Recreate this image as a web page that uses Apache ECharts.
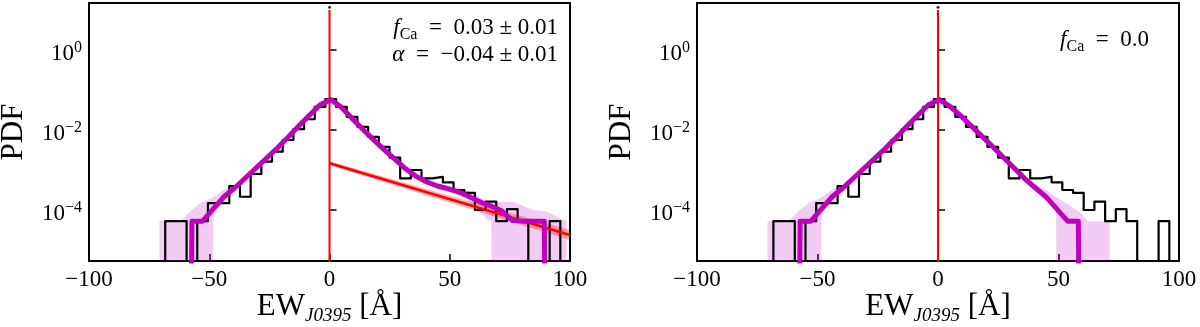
<!DOCTYPE html>
<html>
<head>
<meta charset="utf-8">
<script src="https://cdn.jsdelivr.net/npm/echarts@6/dist/echarts.min.js"></script>
<style>
  html, body { margin: 0; padding: 0; background: #fff; }
  #chart { width: 1200px; height: 327px; }
</style>
</head>
<body>
<div id="chart"></div>
<script>
// histogram of EW_J0395 (same sample in both panels), bin edges in Angstrom
const binEdges = [-68.3, -63.86, -59.42, -54.98, -50.54, -46.1, -41.66, -37.22, -32.78, -28.34,
  -23.9, -19.46, -15.02, -10.58, -6.14, -1.7, 2.74, 7.18, 11.62, 16.06, 20.5, 24.94, 29.38,
  33.82, 38.26, 42.7, 47.14, 51.58, 56.02, 60.46, 64.9, 69.34, 73.78, 78.22, 82.66, 87.1,
  91.54, 95.98];
const histPdf = [5.25e-5, 5.25e-5, 0, 5.25e-5, 1.48e-4, 1.48e-4, 3.98e-4, 2.14e-4, 7.94e-4,
  1.62e-3, 2.88e-3, 5.62e-3, 1.05e-2, 1.86e-2, 3.8e-2, 5.89e-2, 3.8e-2, 2.14e-2, 1.2e-2,
  6.76e-3, 3.8e-3, 2.04e-3, 6.17e-4, 1.0e-3, 6.17e-4, 6.76e-4, 4.9e-4, 3.16e-4, 2.69e-4,
  1.0e-4, 1.62e-4, 5.25e-5, 1.05e-4, 5.25e-5, 0, 0, 5.25e-5];

// model curves at the bin centres
const binCentres = [-66.08, -61.64, -57.2, -52.76, -48.32, -43.88, -39.44, -35.0, -30.56,
  -26.12, -21.68, -17.24, -12.8, -8.36, -3.92, 0.52, 4.96, 9.4, 13.84, 18.28, 22.72, 27.16,
  31.6, 36.04, 40.48, 44.92, 49.36, 53.8, 58.24, 62.68, 67.12, 71.56, 76.0, 80.44, 84.88,
  89.32, 93.76];
const modelLeft = [0, 0, 5.25e-5, 5.25e-5, 1.07e-4, 2.14e-4, 3.55e-4, 6.31e-4, 1.12e-3, 2.0e-3,
  3.55e-3, 6.61e-3, 1.26e-2, 2.34e-2, 4.27e-2, 5.75e-2, 3.72e-2, 1.95e-2, 1.05e-2, 5.75e-3,
  3.24e-3, 1.86e-3, 1.07e-3, 6.92e-4, 5.01e-4, 3.98e-4, 3.39e-4, 2.82e-4, 2.14e-4, 1.58e-4,
  1.26e-4, 9.55e-5, 5.5e-5, 5.25e-5, 5.25e-5, 5.25e-5, 0];
const modelRight = [0, 0, 5.25e-5, 5.25e-5, 1.07e-4, 2.14e-4, 3.55e-4, 6.31e-4, 1.12e-3, 2.0e-3,
  3.55e-3, 6.61e-3, 1.26e-2, 2.34e-2, 4.27e-2, 5.75e-2, 3.89e-2, 2.29e-2, 1.26e-2, 6.92e-3,
  3.8e-3, 2.04e-3, 1.12e-3, 6.03e-4, 3.55e-4, 2.09e-4, 1.05e-4, 5.25e-5, 5.25e-5, 0, 0, 0,
  0, 0, 0, 0, 0];

// model uncertainty bands (0 = down to the bottom of the plot)
const bandLeftX = [-70.7, -62.0, -58.0, -53.8, -48.4, -48.3, -44.0, -39.4, -35.0, -26.1, -17.2,
  -8.4, -3.9, 0.5, 5.0, 13.8, 22.7, 31.6, 40.5, 49.4, 53.0, 57.0, 61.0, 65.0, 67.3, 67.4,
  76.5, 84.7, 90.3, 98.6];
const bandLeftHi = [5.25e-5, 5.25e-5, 9.1e-5, 1.48e-4, 2.09e-4, 2.09e-4, 3.16e-4, 4.17e-4,
  7.08e-4, 2.19e-3, 7.24e-3, 2.51e-2, 4.57e-2, 6.17e-2, 3.98e-2, 1.12e-2, 3.47e-3, 1.15e-3,
  5.37e-4, 3.72e-4, 3.55e-4, 3.16e-4, 2.4e-4, 1.66e-4, 1.62e-4, 1.62e-4, 1.58e-4, 1.0e-4,
  9.1e-5, 5.25e-5];
const bandLeftLo = [0, 0, 0, 0, 0, 8.9e-5, 1.66e-4, 3.02e-4, 5.62e-4, 1.82e-3, 6.03e-3, 2.19e-2,
  3.98e-2, 5.37e-2, 3.47e-2, 9.77e-3, 3.02e-3, 1.0e-3, 4.68e-4, 3.02e-4, 2.4e-4, 1.91e-4,
  1.12e-4, 6.31e-5, 5.25e-5, 0, 0, 0, 0, 0];
const bandRightX = [-70.7, -62.0, -58.0, -53.8, -48.4, -48.3, -44.0, -39.4, -35.0, -26.1, -17.2,
  -8.4, -3.9, 0.5, 5.0, 13.8, 22.7, 31.6, 36.6, 40.5, 44.9, 49.0, 49.1, 53.2, 59.4, 62.2, 71.2];
const bandRightHi = [5.25e-5, 5.25e-5, 9.1e-5, 1.48e-4, 2.09e-4, 2.09e-4, 3.16e-4, 4.17e-4,
  7.08e-4, 2.19e-3, 7.24e-3, 2.51e-2, 4.57e-2, 6.17e-2, 4.17e-2, 1.35e-2, 4.07e-3, 1.2e-3,
  6.46e-4, 4.17e-4, 3.16e-4, 2.09e-4, 2.09e-4, 1.48e-4, 8.3e-5, 5.25e-5, 5.25e-5];
const bandRightLo = [0, 0, 0, 0, 0, 8.9e-5, 1.66e-4, 3.02e-4, 5.62e-4, 1.82e-3, 6.03e-3, 2.19e-2,
  3.98e-2, 5.37e-2, 3.63e-2, 1.17e-2, 3.55e-3, 1.05e-3, 5.25e-4, 3.16e-4, 1.78e-4, 1.1e-4,
  0, 0, 0, 0, 0];

// exponential Ca component (left panel only)
const fitX = [0, 100];
const fitPdf = [1.48e-3, 2.37e-5];
const fitHi = [1.66e-3, 3.16e-5];
const fitLo = [1.32e-3, 1.78e-5];

const vlineTop = 10;      // red line at EW = 0
const markerTop = 11.7;   // small black dot above it
const yTicks = [1e-4, 1e-2, 1];

const Y_MIN = 5.3e-6, Y_MAX = 15;
const FLOOR = 1e-40;      // stands in for zero on the log axis
const FONT = 'Liberation Serif';
const MAGENTA = '#BF00BF';

const chart = echarts.init(document.getElementById('chart'));

function nz(v) { return v > 0 ? v : FLOOR; }

function histPoints() {
  const last = binEdges.length - 1;
  const pts = [[binEdges[0], FLOOR]];
  histPdf.forEach((v, i) => pts.push([binEdges[i], nz(v)]));
  pts.push([binEdges[last], nz(histPdf[histPdf.length - 1])]);
  pts.push([binEdges[last], FLOOR]);
  return pts;
}

function bandSeries(idx, xs, hi, lo, color) {
  return {
    type: 'custom', xAxisIndex: idx, yAxisIndex: idx, silent: true,
    data: [[xs[0], hi[0]]],
    encode: { x: 0, y: 1 },
    renderItem: (params, api) => {
      const top = xs.map((x, i) => api.coord([x, hi[i]]));
      const bottom = xs.map((x, i) => api.coord([x, lo[i] > 0 ? lo[i] : Y_MIN])).reverse();
      return { type: 'polygon', shape: { points: top.concat(bottom) }, style: { fill: color } };
    }
  };
}

function lineSeries(idx, data, color, width, extra) {
  return Object.assign({
    type: 'line', xAxisIndex: idx, yAxisIndex: idx, data: data, symbol: 'none',
    silent: true, clip: true, animation: false,
    lineStyle: { color: color, width: width, join: 'round' }
  }, extra || {});
}

function xAxis(idx) {
  return {
    type: 'value', gridIndex: idx, min: -100, max: 100, interval: 50,
    axisLine: { show: false },
    axisTick: { show: true, inside: true, length: 7, lineStyle: { color: '#000', width: 1.5 } },
    axisLabel: {
      color: '#000', fontFamily: FONT, fontSize: 23, margin: 7,
      showMinLabel: true, showMaxLabel: true,
      formatter: v => v < 0 ? '\u2212' + (-v) : String(v)
    },
    splitLine: { show: false },
    name: '{b|EW}{s|J0395}{b| [Å]}',
    nameLocation: 'middle', nameGap: 28, nameMoveOverlap: false,
    nameTextStyle: {
      color: '#000', fontFamily: FONT, fontSize: 31,
      rich: {
        b: { fontFamily: FONT, fontSize: 31, lineHeight: 36, color: '#000' },
        s: { fontFamily: FONT, fontSize: 19, fontStyle: 'italic', lineHeight: 20,
             verticalAlign: 'bottom', color: '#000' }
      }
    }
  };
}

function yAxis(idx) {
  return {
    type: 'log', logBase: 10, gridIndex: idx, min: Y_MIN, max: Y_MAX,
    axisLine: { show: false },
    axisTick: { show: true, inside: true, length: 7, customValues: yTicks,
                lineStyle: { color: '#000', width: 1.5 } },
    minorTick: { show: false },
    axisLabel: {
      customValues: yTicks, margin: 7, padding: [8, 0, 0, 0],
      formatter: v => {
        const e = Math.round(Math.log10(v));
        return '{b|10}{s|' + (e < 0 ? '\u2212' + (-e) : e) + '}';
      },
      rich: {
        b: { fontFamily: FONT, fontSize: 23, lineHeight: 28, color: '#000' },
        s: { fontFamily: FONT, fontSize: 16, lineHeight: 16, verticalAlign: 'top', color: '#000' }
      }
    },
    splitLine: { show: false },
    name: 'PDF', nameLocation: 'middle', nameGap: 60, nameRotate: 90, nameMoveOverlap: false,
    nameTextStyle: { color: '#000', fontFamily: FONT, fontSize: 31 }
  };
}

const annRich = {
  i: { fontFamily: FONT, fontSize: 23, fontStyle: 'italic', lineHeight: 30, fill: '#000' },
  sub: { fontFamily: FONT, fontSize: 16, lineHeight: 16, verticalAlign: 'bottom', fill: '#000' },
  n: { fontFamily: FONT, fontSize: 23, lineHeight: 30, fill: '#000' }
};

function annotation(x, y, text) {
  return {
    type: 'text', x: x, y: y, silent: true,
    style: { text: text, rich: annRich, align: 'right', verticalAlign: 'middle',
             font: '23px ' + FONT, fill: '#000' }
  };
}

const gridStyle = { show: true, borderColor: '#000', borderWidth: 2, backgroundColor: '#fff' };

const option = {
  animation: false,
  backgroundColor: '#fff',
  grid: [
    Object.assign({ left: 89, top: 3, width: 481, height: 258, outerBoundsMode: 'none' }, gridStyle),
    Object.assign({ left: 697, top: 3, width: 482, height: 258, outerBoundsMode: 'none' }, gridStyle)
  ],
  xAxis: [xAxis(0), xAxis(1)],
  yAxis: [yAxis(0), yAxis(1)],
  graphic: [
    annotation(558, 28, '{i|f}{sub|Ca}{n|  =  0.03 ± 0.01}'),
    annotation(558, 55, '{i|α}{n|  =  \u22120.04 ± 0.01}'),
    annotation(1149, 40, '{i|f}{sub|Ca}{n|  =  0.0}')
  ],
  series: [
    // left panel
    bandSeries(0, bandLeftX, bandLeftHi, bandLeftLo, 'rgba(191,0,191,0.2)'),
    bandSeries(0, fitX, fitHi, fitLo, 'rgba(255,0,0,0.3)'),
    lineSeries(0, [[0, vlineTop], [0, FLOOR]], '#FF0000', 2),
    lineSeries(0, histPoints(), '#000', 2.2, { step: 'end' }),
    lineSeries(0, fitX.map((x, i) => [x, fitPdf[i]]), '#FF0000', 2.5),
    lineSeries(0, binCentres.map((x, i) => [x, nz(modelLeft[i])]), MAGENTA, 5),
    { type: 'scatter', xAxisIndex: 0, yAxisIndex: 0, data: [[0, markerTop]], symbolSize: 3,
      itemStyle: { color: '#000' }, silent: true },
    // right panel
    bandSeries(1, bandRightX, bandRightHi, bandRightLo, 'rgba(191,0,191,0.2)'),
    lineSeries(1, [[0, vlineTop], [0, FLOOR]], '#FF0000', 2),
    lineSeries(1, histPoints(), '#000', 2.2, { step: 'end' }),
    lineSeries(1, binCentres.map((x, i) => [x, nz(modelRight[i])]), MAGENTA, 5),
    { type: 'scatter', xAxisIndex: 1, yAxisIndex: 1, data: [[0, markerTop]], symbolSize: 3,
      itemStyle: { color: '#000' }, silent: true }
  ]
};

chart.setOption(option);
window.addEventListener('resize', () => chart.resize());
</script>
</body>
</html>
